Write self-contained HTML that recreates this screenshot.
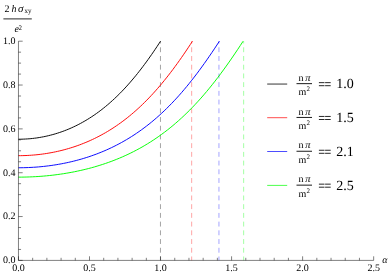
<!DOCTYPE html>
<html><head><meta charset="utf-8"><title>plot</title>
<style>
html,body{margin:0;padding:0;background:#fff;}
body{width:390px;height:277px;overflow:hidden;}
svg{display:block;font-family:"Liberation Serif",serif;will-change:transform;}
svg text{text-rendering:geometricPrecision;}
</style></head><body>
<svg width="390" height="277" viewBox="0 0 390 277">
<rect width="390" height="277" fill="#fff"/>

<g fill="none" stroke-width="0.36" stroke-dasharray="4.9 3.817" stroke-dashoffset="2.62">
<line x1="160.46" y1="41.20" x2="160.46" y2="260.40" stroke="#000000"/>
<line x1="191.67" y1="41.20" x2="191.67" y2="260.40" stroke="#ff0000"/>
<line x1="218.95" y1="41.20" x2="218.95" y2="260.40" stroke="#0000ff"/>
<line x1="243.65" y1="41.20" x2="243.65" y2="260.40" stroke="#00ff00"/>
</g>
<g fill="none" stroke-width="0.95" stroke-linejoin="round">
<polyline points="18.46,139.23 20.24,139.22 22.01,139.18 23.79,139.12 25.56,139.03 27.34,138.92 29.12,138.79 30.89,138.63 32.67,138.44 34.44,138.23 36.22,138.00 38.00,137.74 39.77,137.45 41.55,137.14 43.32,136.81 45.10,136.44 46.88,136.05 48.65,135.64 50.43,135.20 52.20,134.73 53.98,134.24 55.76,133.71 57.53,133.16 59.31,132.59 61.08,131.98 62.86,131.35 64.64,130.68 66.41,129.99 68.19,129.27 69.96,128.52 71.74,127.74 73.52,126.92 75.29,126.08 77.07,125.21 78.84,124.30 80.62,123.36 82.40,122.39 84.17,121.38 85.95,120.35 87.72,119.27 89.50,118.17 91.28,117.02 93.05,115.85 94.83,114.63 96.60,113.38 98.38,112.10 100.16,110.77 101.93,109.41 103.71,108.01 105.48,106.57 107.26,105.09 109.04,103.57 110.81,102.01 112.59,100.41 114.36,98.77 116.14,97.09 117.92,95.36 119.69,93.60 121.47,91.79 123.24,89.94 125.02,88.04 126.80,86.10 128.57,84.12 130.35,82.10 132.12,80.03 133.90,77.92 135.68,75.77 137.45,73.57 139.23,71.33 141.00,69.04 142.78,66.71 144.56,64.34 146.33,61.93 148.11,59.48 149.88,56.98 151.66,54.45 153.44,51.87 155.21,49.26 156.99,46.61 158.76,43.92 160.54,41.20" stroke="#000000"/>
<polyline points="18.46,155.67 20.64,155.66 22.81,155.62 24.99,155.56 27.16,155.47 29.34,155.35 31.51,155.20 33.69,155.03 35.86,154.84 38.04,154.61 40.21,154.36 42.39,154.09 44.56,153.78 46.74,153.45 48.91,153.09 51.09,152.70 53.26,152.29 55.44,151.84 57.61,151.37 59.79,150.87 61.96,150.34 64.14,149.77 66.31,149.18 68.49,148.56 70.66,147.90 72.84,147.22 75.01,146.50 77.19,145.74 79.36,144.96 81.54,144.14 83.71,143.28 85.89,142.39 88.06,141.47 90.24,140.50 92.41,139.51 94.59,138.47 96.77,137.39 98.94,136.28 101.12,135.12 103.29,133.92 105.47,132.69 107.64,131.41 109.82,130.08 111.99,128.71 114.17,127.30 116.34,125.84 118.52,124.34 120.69,122.79 122.87,121.18 125.04,119.54 127.22,117.84 129.39,116.09 131.57,114.28 133.74,112.43 135.92,110.52 138.09,108.56 140.27,106.55 142.44,104.47 144.62,102.35 146.79,100.17 148.97,97.93 151.14,95.63 153.32,93.27 155.49,90.86 157.67,88.39 159.84,85.86 162.02,83.27 164.19,80.63 166.37,77.92 168.55,75.16 170.72,72.34 172.90,69.47 175.07,66.53 177.25,63.55 179.42,60.50 181.60,57.41 183.77,54.26 185.95,51.07 188.12,47.82 190.30,44.53 192.47,41.20" stroke="#ff0000"/>
<polyline points="18.46,167.76 20.97,167.74 23.48,167.70 25.99,167.64 28.51,167.54 31.02,167.42 33.53,167.28 36.04,167.11 38.55,166.91 41.06,166.68 43.58,166.43 46.09,166.14 48.60,165.84 51.11,165.50 53.62,165.13 56.13,164.74 58.65,164.31 61.16,163.86 63.67,163.37 66.18,162.86 68.69,162.32 71.20,161.74 73.72,161.13 76.23,160.49 78.74,159.81 81.25,159.11 83.76,158.36 86.27,157.58 88.79,156.77 91.30,155.92 93.81,155.03 96.32,154.11 98.83,153.14 101.34,152.14 103.86,151.09 106.37,150.00 108.88,148.87 111.39,147.70 113.90,146.48 116.41,145.21 118.93,143.90 121.44,142.54 123.95,141.13 126.46,139.67 128.97,138.16 131.48,136.60 134.00,134.98 136.51,133.30 139.02,131.57 141.53,129.79 144.04,127.94 146.55,126.04 149.07,124.07 151.58,122.04 154.09,119.94 156.60,117.79 159.11,115.56 161.62,113.27 164.14,110.91 166.65,108.48 169.16,105.98 171.67,103.41 174.18,100.77 176.69,98.06 179.21,95.27 181.72,92.42 184.23,89.49 186.74,86.48 189.25,83.41 191.76,80.26 194.28,77.04 196.79,73.75 199.30,70.39 201.81,66.96 204.32,63.46 206.83,59.90 209.34,56.28 211.86,52.59 214.37,48.85 216.88,45.05 219.39,41.20" stroke="#0000ff"/>
<polyline points="18.46,177.14 21.27,177.13 24.08,177.09 26.88,177.02 29.69,176.93 32.50,176.81 35.31,176.67 38.12,176.50 40.92,176.30 43.73,176.08 46.54,175.82 49.35,175.54 52.16,175.24 54.97,174.90 57.77,174.53 60.58,174.14 63.39,173.72 66.20,173.26 69.01,172.78 71.81,172.27 74.62,171.72 77.43,171.14 80.24,170.53 83.05,169.89 85.85,169.21 88.66,168.50 91.47,167.75 94.28,166.97 97.09,166.14 99.89,165.28 102.70,164.38 105.51,163.44 108.32,162.46 111.13,161.44 113.94,160.37 116.74,159.26 119.55,158.11 122.36,156.90 125.17,155.65 127.98,154.35 130.78,153.00 133.59,151.59 136.40,150.13 139.21,148.62 142.02,147.05 144.82,145.42 147.63,143.73 150.44,141.98 153.25,140.16 156.06,138.28 158.87,136.34 161.67,134.32 164.48,132.24 167.29,130.08 170.10,127.85 172.91,125.55 175.71,123.17 178.52,120.71 181.33,118.17 184.14,115.55 186.95,112.85 189.75,110.07 192.56,107.20 195.37,104.24 198.18,101.20 200.99,98.08 203.79,94.86 206.60,91.56 209.41,88.17 212.22,84.70 215.03,81.14 217.84,77.49 220.64,73.76 223.45,69.95 226.26,66.06 229.07,62.09 231.88,58.05 234.68,53.93 237.49,49.75 240.30,45.50 243.11,41.20" stroke="#00ff00"/>
</g>
<g stroke="#000" stroke-width="0.5" fill="none">
<line x1="18.46" y1="41.20" x2="18.46" y2="260.4"/>
<line x1="18.46" y1="260.4" x2="373.66" y2="260.4"/>
<line x1="18.46" y1="260.4" x2="18.46" y2="256.30"/>
<line x1="32.67" y1="260.4" x2="32.67" y2="257.80"/>
<line x1="46.88" y1="260.4" x2="46.88" y2="257.80"/>
<line x1="61.08" y1="260.4" x2="61.08" y2="257.80"/>
<line x1="75.29" y1="260.4" x2="75.29" y2="257.80"/>
<line x1="89.50" y1="260.4" x2="89.50" y2="256.30"/>
<line x1="103.71" y1="260.4" x2="103.71" y2="257.80"/>
<line x1="117.92" y1="260.4" x2="117.92" y2="257.80"/>
<line x1="132.12" y1="260.4" x2="132.12" y2="257.80"/>
<line x1="146.33" y1="260.4" x2="146.33" y2="257.80"/>
<line x1="160.54" y1="260.4" x2="160.54" y2="256.30"/>
<line x1="174.75" y1="260.4" x2="174.75" y2="257.80"/>
<line x1="188.96" y1="260.4" x2="188.96" y2="257.80"/>
<line x1="203.16" y1="260.4" x2="203.16" y2="257.80"/>
<line x1="217.37" y1="260.4" x2="217.37" y2="257.80"/>
<line x1="231.58" y1="260.4" x2="231.58" y2="256.30"/>
<line x1="245.79" y1="260.4" x2="245.79" y2="257.80"/>
<line x1="260.00" y1="260.4" x2="260.00" y2="257.80"/>
<line x1="274.20" y1="260.4" x2="274.20" y2="257.80"/>
<line x1="288.41" y1="260.4" x2="288.41" y2="257.80"/>
<line x1="302.62" y1="260.4" x2="302.62" y2="256.30"/>
<line x1="316.83" y1="260.4" x2="316.83" y2="257.80"/>
<line x1="331.04" y1="260.4" x2="331.04" y2="257.80"/>
<line x1="345.24" y1="260.4" x2="345.24" y2="257.80"/>
<line x1="359.45" y1="260.4" x2="359.45" y2="257.80"/>
<line x1="373.66" y1="260.4" x2="373.66" y2="256.30"/>
<line x1="18.46" y1="260.40" x2="22.66" y2="260.40"/>
<line x1="18.46" y1="249.44" x2="21.06" y2="249.44"/>
<line x1="18.46" y1="238.48" x2="21.06" y2="238.48"/>
<line x1="18.46" y1="227.52" x2="21.06" y2="227.52"/>
<line x1="18.46" y1="216.56" x2="22.66" y2="216.56"/>
<line x1="18.46" y1="205.60" x2="21.06" y2="205.60"/>
<line x1="18.46" y1="194.64" x2="21.06" y2="194.64"/>
<line x1="18.46" y1="183.68" x2="21.06" y2="183.68"/>
<line x1="18.46" y1="172.72" x2="22.66" y2="172.72"/>
<line x1="18.46" y1="161.76" x2="21.06" y2="161.76"/>
<line x1="18.46" y1="150.80" x2="21.06" y2="150.80"/>
<line x1="18.46" y1="139.84" x2="21.06" y2="139.84"/>
<line x1="18.46" y1="128.88" x2="22.66" y2="128.88"/>
<line x1="18.46" y1="117.92" x2="21.06" y2="117.92"/>
<line x1="18.46" y1="106.96" x2="21.06" y2="106.96"/>
<line x1="18.46" y1="96.00" x2="21.06" y2="96.00"/>
<line x1="18.46" y1="85.04" x2="22.66" y2="85.04"/>
<line x1="18.46" y1="74.08" x2="21.06" y2="74.08"/>
<line x1="18.46" y1="63.12" x2="21.06" y2="63.12"/>
<line x1="18.46" y1="52.16" x2="21.06" y2="52.16"/>
<line x1="18.46" y1="41.20" x2="22.66" y2="41.20"/>
</g>
<g font-size="10px" fill="#000">
<text x="18.46" y="271.3" text-anchor="middle">0.0</text>
<text x="89.50" y="271.3" text-anchor="middle">0.5</text>
<text x="160.54" y="271.3" text-anchor="middle">1.0</text>
<text x="231.58" y="271.3" text-anchor="middle">1.5</text>
<text x="302.62" y="271.3" text-anchor="middle">2.0</text>
<text x="373.66" y="271.3" text-anchor="middle">2.5</text>
<text x="15.6" y="263.20" text-anchor="end">0.0</text>
<text x="15.6" y="219.36" text-anchor="end">0.2</text>
<text x="15.6" y="175.52" text-anchor="end">0.4</text>
<text x="15.6" y="131.68" text-anchor="end">0.6</text>
<text x="15.6" y="87.84" text-anchor="end">0.8</text>
<text x="15.6" y="44.00" text-anchor="end">1.0</text>
</g>
<text x="384.9" y="262.5" font-size="10px" font-style="italic" text-anchor="middle">α</text>
<g fill="#000">
<text x="4.5" y="11.6" font-size="10px">2</text>
<text x="11.4" y="11.6" font-size="10px" font-style="italic">h</text>
<text x="17.9" y="11.6" font-size="11px" font-style="italic">σ</text>
<text x="24.5" y="13" font-size="7px">xy</text>
<line x1="3.4" y1="18.9" x2="31.8" y2="18.9" stroke="#000" stroke-width="0.85"/>
<text x="14.5" y="32.3" font-size="10px" font-style="italic">e</text>
<text x="18.5" y="29.8" font-size="7px">2</text>
</g>
<line x1="267.2" y1="84.05" x2="287.2" y2="84.05" stroke="#000000" stroke-width="0.8"/>
<text x="298.6" y="80.70" font-size="10px">n</text>
<text x="305.3" y="80.70" font-size="10.6px" font-style="italic">π</text>
<line x1="296.5" y1="83.65" x2="312" y2="83.65" stroke="#000" stroke-width="0.9"/>
<text x="298.6" y="95.00" font-size="10px">m</text>
<text x="306.6" y="91.30" font-size="7px">2</text>
<path d="M318.9 82.65h5.6m0.6 0h5.6M318.9 85.70h5.6m0.6 0h5.6" stroke="#000" stroke-width="0.85" fill="none"/>
<text x="336.3" y="88.10" font-size="14px">1.0</text>
<line x1="267.2" y1="117.7" x2="287.2" y2="117.7" stroke="#ff0000" stroke-width="0.7"/>
<text x="298.6" y="114.50" font-size="10px">n</text>
<text x="305.3" y="114.50" font-size="10.6px" font-style="italic">π</text>
<line x1="296.5" y1="117.45" x2="312" y2="117.45" stroke="#000" stroke-width="0.9"/>
<text x="298.6" y="128.80" font-size="10px">m</text>
<text x="306.6" y="125.10" font-size="7px">2</text>
<path d="M318.9 116.45h5.6m0.6 0h5.6M318.9 119.50h5.6m0.6 0h5.6" stroke="#000" stroke-width="0.85" fill="none"/>
<text x="336.3" y="121.90" font-size="14px">1.5</text>
<line x1="267.2" y1="151.5" x2="287.2" y2="151.5" stroke="#0000ff" stroke-width="0.7"/>
<text x="298.6" y="148.30" font-size="10px">n</text>
<text x="305.3" y="148.30" font-size="10.6px" font-style="italic">π</text>
<line x1="296.5" y1="151.25" x2="312" y2="151.25" stroke="#000" stroke-width="0.9"/>
<text x="298.6" y="162.60" font-size="10px">m</text>
<text x="306.6" y="158.90" font-size="7px">2</text>
<path d="M318.9 150.25h5.6m0.6 0h5.6M318.9 153.30h5.6m0.6 0h5.6" stroke="#000" stroke-width="0.85" fill="none"/>
<text x="336.3" y="155.70" font-size="14px">2.1</text>
<line x1="267.2" y1="185.4" x2="287.2" y2="185.4" stroke="#00ff00" stroke-width="0.7"/>
<text x="298.6" y="182.20" font-size="10px">n</text>
<text x="305.3" y="182.20" font-size="10.6px" font-style="italic">π</text>
<line x1="296.5" y1="185.15" x2="312" y2="185.15" stroke="#000" stroke-width="0.9"/>
<text x="298.6" y="196.50" font-size="10px">m</text>
<text x="306.6" y="192.80" font-size="7px">2</text>
<path d="M318.9 184.15h5.6m0.6 0h5.6M318.9 187.20h5.6m0.6 0h5.6" stroke="#000" stroke-width="0.85" fill="none"/>
<text x="336.3" y="189.60" font-size="14px">2.5</text>
</svg></body></html>
